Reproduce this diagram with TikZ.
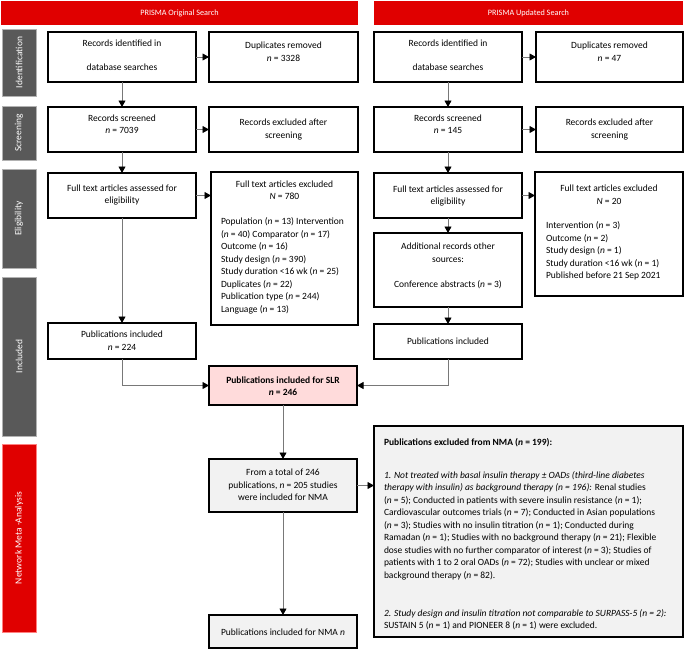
\documentclass[tikz,border=0pt]{standalone}
\usepackage{fontspec}
\setmainfont{Carlito}
\usetikzlibrary{arrows.meta,calc}
\definecolor{prismared}{RGB}{224,0,0}
\definecolor{stagegray}{RGB}{89,89,89}
\definecolor{slrpink}{RGB}{255,219,219}
\definecolor{nmagray}{RGB}{242,242,242}
\definecolor{linegray}{RGB}{120,120,120}
\newcommand\mkbox[6]{\node[#6, minimum width=#4pt-#2pt, minimum height=#5pt-#3pt] (#1) at ({(#2+#4)/2},{(#3+#5)/2}) {};}
\begin{document}
\begin{tikzpicture}[x=1pt,y=-1pt,
  every node/.style={font=\fontsize{9.5}{12.5}\selectfont, inner sep=0pt, outer sep=0pt},
  box/.style={draw=black, line width=1.2pt, fill=white},
  header/.style={fill=prismared},
  headtxt/.style={text=white, font=\fontsize{8.2}{10}\selectfont},
  stage/.style={fill=stagegray, draw=black!30, line width=0.5pt},
  nmastage/.style={fill=prismared, draw=red!50, line width=0.5pt},
  stagetxt/.style={text=white, rotate=90},
  txt/.style={align=center},
  ltxt/.style={align=left, anchor=west},
  conn/.style={draw=linegray, line width=0.8pt, -{Triangle[length=6.5pt,width=7pt,color=black]}}
]
\useasboundingbox (0,0) rectangle (685,651);
% headers
\mkbox{h1}{1}{1}{358}{25}{header}
\mkbox{h2}{374}{1}{683}{25}{header}
\node[headtxt] (h1t) at (h1) {PRISMA Original Search};
\node[headtxt] (h2t) at (h2) {PRISMA Updated Search};
% stage bars
\mkbox{sid}{2}{29}{36}{96}{stage}
\mkbox{sscr}{2}{106}{36}{160}{stage}
\mkbox{sel}{2}{169}{36}{268}{stage}
\mkbox{sinc}{2}{277}{36}{436}{stage}
\mkbox{snma}{2}{444}{36}{632}{nmastage}
\node[stagetxt] (sidt) at (sid) {Identification};
\node[stagetxt] (sscrt) at (sscr) {Screening};
\node[stagetxt] (selt) at (sel) {Eligibility};
\node[stagetxt] (sinct) at (sinc) {Included};
\node[stagetxt] (snmat) at (snma) {Network Meta -Analysis};
% left column boxes
\mkbox{id1}{48}{32}{196}{82}{box}
\mkbox{dup1}{209}{32}{358}{82}{box}
\mkbox{scr1}{48}{107}{196}{152}{box}
\mkbox{exc1}{209}{107}{358}{152}{box}
\mkbox{ft1}{48}{173}{196}{218}{box}
\mkbox{ftx1}{211}{172}{358}{325}{box}
\mkbox{pub1}{48}{323}{196}{359}{box}
\mkbox{slr}{209}{366}{357}{405}{box, fill=slrpink}
\mkbox{nma1}{209}{459}{357}{512}{box, fill=nmagray}
\mkbox{nma2}{209}{615}{357}{648}{box, fill=nmagray}
% right column boxes
\mkbox{id2}{374}{32}{522}{82}{box}
\mkbox{dup2}{536}{32}{683}{82}{box}
\mkbox{scr2}{374}{107}{522}{152}{box}
\mkbox{exc2}{536}{107}{683}{152}{box}
\mkbox{ft2}{374}{173}{522}{218}{box}
\mkbox{ftx2}{535}{172}{683}{296}{box}
\mkbox{add}{374}{233}{522}{307}{box}
\mkbox{pub2}{374}{324}{522}{359}{box}
\mkbox{exnma}{374}{426}{683}{637}{box, fill=nmagray}
% left texts
\node[txt] (id1t) at (122,55) {Records identified in\\[11.5pt]database searches};
\node[txt] (dup1t) at (283.5,51.5) {Duplicates removed\\\textit{n} = 3328};
\node[txt] (scr1t) at (122,124) {Records screened\\\textit{n} = 7039};
\node[txt] (exc1t) at (283.5,129.5) {Records excluded after\\screening};
\node[txt] (ft1t) at (122,195) {Full text articles assessed for\\eligibility};
\node[txt] (ftx1t) at (284.5,190) {Full text articles excluded\\\textit{N} = 780};
\node[ltxt] (ftx1l) at (221,266) {Population (\textit{n} = 13) Intervention\\(\textit{n} = 40) Comparator (\textit{n} = 17)\\Outcome (\textit{n} = 16)\\Study design (\textit{n} = 390)\\Study duration <16 wk (\textit{n} = 25)\\Duplicates (\textit{n} = 22)\\Publication type (\textit{n} = 244)\\Language (\textit{n} = 13)};
\node[txt] (pub1t) at (122,340.5) {Publications included\\\textit{n} = 224};
\node[txt, font=\fontsize{9.5}{12.5}\selectfont\bfseries] (slrt) at (283,386) {Publications included for SLR\\\textit{n} = 246};
\node[txt] (nma1t) at (283,485) {From a total of 246\\publications, \textit{n} = 205 studies\\were included for NMA};
\node[txt] (nma2t) at (283,632) {Publications included for NMA \textit{n}};
% right texts
\node[txt] (id2t) at (448,55) {Records identified in\\[11.5pt]database searches};
\node[txt] (dup2t) at (609.5,51.5) {Duplicates removed\\\textit{n} = 47};
\node[txt] (scr2t) at (448,124) {Records screened\\\textit{n} = 145};
\node[txt] (exc2t) at (609.5,129.5) {Records excluded after\\screening};
\node[txt] (ft2t) at (448,196) {Full text articles assessed for\\eligibility};
\node[txt] (ftx2t) at (609,194.5) {Full text articles excluded\\\textit{N} = 20};
\node[ltxt] (ftx2l) at (546,251) {Intervention (\textit{n} = 3)\\Outcome (\textit{n} = 2)\\Study design (\textit{n} = 1)\\Study duration <16 wk (\textit{n} = 1)\\Published before 21 Sep 2021};
\node[txt] (addt) at (448,266) {Additional records other\\sources:\\[12.5pt]Conference abstracts (\textit{n} = 3)};
\node[txt] (pub2t) at (448,341.5) {Publications included};
% excluded from NMA
\node[ltxt] (exh) at (384,443) {\textbf{Publications excluded from NMA (\textit{n} = 199):}};
\node[ltxt] (ex1) at (384,525.5) {\textit{1. Not treated with basal insulin therapy ± OADs (third-line diabetes}\\\textit{therapy with insulin) as background therapy (n = 196):} Renal studies\\(\textit{n} = 5); Conducted in patients with severe insulin resistance (\textit{n} = 1);\\Cardiovascular outcomes trials (\textit{n} = 7); Conducted in Asian populations\\(\textit{n} = 3); Studies with no insulin titration (\textit{n} = 1); Conducted during\\Ramadan (\textit{n} = 1); Studies with no background therapy (\textit{n} = 21); Flexible\\dose studies with no further comparator of interest (\textit{n} = 3); Studies of\\patients with 1 to 2 oral OADs (\textit{n} = 72); Studies with unclear or mixed\\background therapy (\textit{n} = 82).};
\node[ltxt] (ex2) at (384,619.5) {\textit{2. Study design and insulin titration not comparable to SURPASS-5 (n = 2):}\\SUSTAIN 5 (\textit{n} = 1) and PIONEER 8 (\textit{n} = 1) were excluded.};
% connectors left
\draw[conn] (id1) -- (dup1);
\draw[conn] (id1) -- (scr1);
\draw[conn] (scr1) -- (exc1);
\draw[conn] (scr1) -- (ft1);
\draw[conn] (ft1.east) -- (ft1.east -| ftx1.west);
\draw[conn] (ft1) -- (pub1);
\draw[conn] (pub1.south) |- (slr.west);
% connectors right
\draw[conn] (id2) -- (dup2);
\draw[conn] (id2) -- (scr2);
\draw[conn] (scr2) -- (exc2);
\draw[conn] (scr2) -- (ft2);
\draw[conn] (ft2.east) -- (ft2.east -| ftx2.west);
\draw[conn] (ft2) -- (add);
\draw[conn] (add) -- (pub2);
\draw[conn] (pub2.south) |- (slr.east);
% NMA connectors
\draw[conn] (slr) -- (nma1);
\draw[conn] (nma1.east) -- (nma1.east -| exnma.west);
\draw[conn] (nma1) -- (nma2);
\end{tikzpicture}
\end{document}
